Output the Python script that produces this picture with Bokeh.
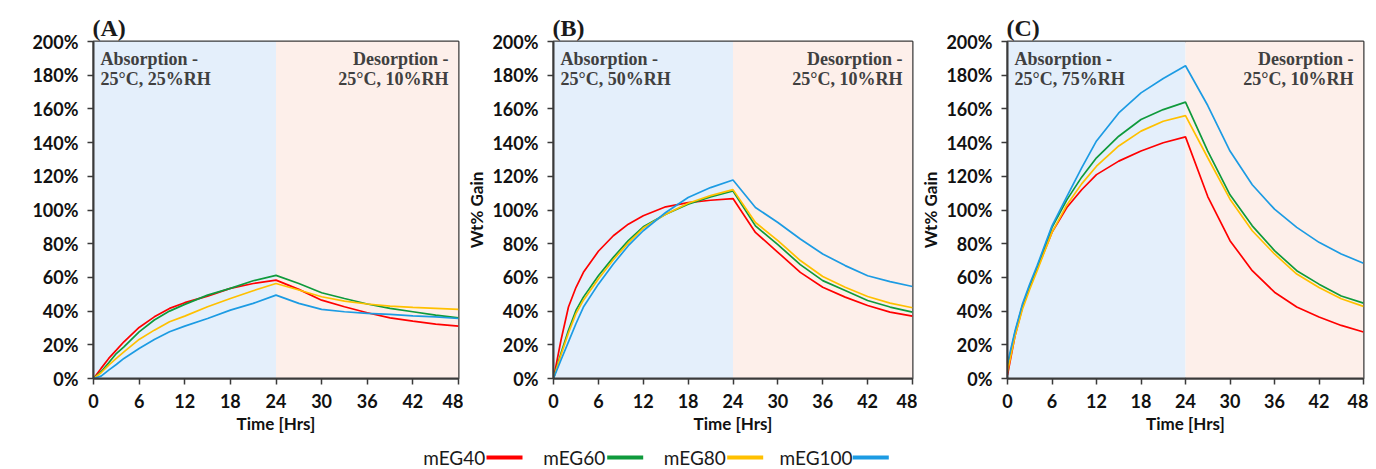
from bokeh.plotting import figure
from bokeh.layouts import column, row
from bokeh.models import BoxAnnotation, Label, FixedTicker, PrintfTickFormatter, Range1d
from bokeh.core.properties import value
from bokeh.embed import file_html
from bokeh.resources import INLINE

# ---------------- data ----------------
series_names = ["mEG40", "mEG60", "mEG80", "mEG100"]
series_colors = ["#FF0000", "#0F9A3C", "#FFC000", "#1C9BE3"]

time_hrs = [0, 1, 2, 3, 4, 6, 8, 10, 12, 15, 18, 21, 24, 27, 30, 33, 36, 39, 42, 45, 48]
x_ticks = [0, 6, 12, 18, 24, 30, 36, 42, 48]
y_ticks = [0, 20, 40, 60, 80, 100, 120, 140, 160, 180, 200]

panel_tags = ["(A)", "(B)", "(C)"]
absorption_rh = ["25°C, 25%RH", "25°C, 50%RH", "25°C, 75%RH"]
desorption_rh = "25°C, 10%RH"

# Panel A (25%RH)
a_meg40 = [0, 6, 11.9, 16.8, 21.8, 30.3, 36.6, 41.6, 45, 48.9, 53.5, 56.4, 58.4, 52.9, 46.5, 42.6, 39, 36, 34, 32.3, 31.1]
a_meg60 = [0, 4, 9.3, 14.8, 18.8, 27.7, 34.7, 40, 44, 49.5, 53.5, 58, 61.2, 56.4, 50.9, 47.5, 44.2, 41.6, 39.6, 37.6, 36]
a_meg80 = [0, 3.4, 7.9, 11.9, 15.8, 23.2, 28.7, 33.7, 37, 42.6, 47.5, 52.1, 56.4, 52.5, 48.5, 45.9, 44.2, 43, 42.2, 41.6, 41]
a_meg100 = [0, 1.4, 5, 8.3, 11.9, 17.8, 23.2, 27.7, 31.1, 35.6, 40.6, 44.6, 49.5, 44.6, 41, 39.6, 38.6, 38, 37.2, 36.6, 35.6]

# Panel B (50%RH)
b_meg40 = [0, 22.7, 42.4, 54, 63, 75.5, 84.7, 91.6, 96.6, 101.9, 104.4, 105.8, 106.8, 86.7, 74.9, 63, 54.2, 48.3, 43.3, 39.4, 37]
b_meg60 = [0, 15, 28.6, 40.4, 48.3, 61, 71.9, 81.8, 90, 97.5, 103.4, 107.8, 111.3, 90.6, 79.4, 67.6, 58.1, 52.2, 46.3, 42.4, 39.4]
b_meg80 = [0, 14, 27, 38.5, 46.5, 59, 70.5, 80.5, 89.3, 97.5, 104, 108.5, 112.1, 92.6, 81.8, 70, 60.5, 54.2, 48.7, 44.7, 42]
b_meg100 = [0, 11, 21.7, 32.5, 42.4, 56, 68, 78.8, 87.7, 98.5, 107.4, 113.3, 117.8, 101.5, 92.6, 82.8, 73.9, 67, 61, 57.5, 54.6]

# Panel C (75%RH)
c_meg40 = [2, 25, 42, 54, 65, 86.7, 101.5, 112, 121, 129, 135, 139.9, 143.4, 108, 81.8, 64, 51.2, 42.4, 36.5, 31.5, 27.6]
c_meg60 = [7, 27, 43, 55, 66, 89.7, 106, 119.5, 131, 143.8, 153.7, 159.6, 164, 135, 109, 90.6, 75.9, 64, 56, 49, 44.7]
c_meg80 = [4, 25, 41, 53, 64, 86.7, 103, 115.5, 126, 138, 146.8, 152.7, 156, 131, 106.4, 87.7, 73.9, 62, 54, 47.3, 42.8]
c_meg100 = [9, 28, 44, 56, 67, 90.6, 108, 125, 141, 157.6, 169.5, 178, 185.6, 162, 135, 115, 100.5, 89.7, 80.8, 73.9, 68.4]

panels_data = [
    [a_meg40, a_meg60, a_meg80, a_meg100],
    [b_meg40, b_meg60, b_meg80, b_meg100],
    [c_meg40, c_meg60, c_meg80, c_meg100],
]

# ---------------- styling ----------------
ABS_BG = "#E4EFFB"
DES_BG = "#FDEFEA"
DARK = "#3A3A3A"
ANNOT = "#404040"
SANS = "Lato"
SERIF = "Liberation Serif"

FRAME_H = 338
TOP = 41
BOTTOM = 57

layout_specs = [  # (left border, frame width, right border, show y label)
    (93, 365, 5, False),
    (84, 365, 5, True),
    (80, 366, 5, True),
]


def make_panel(i):
    lb, fw, rb, show_ylabel = layout_specs[i]
    p = figure(width=lb + fw + rb, height=TOP + FRAME_H + BOTTOM,
               x_range=Range1d(0, 48), y_range=Range1d(0, 200),
               output_backend="svg", toolbar_location=None,
               min_border_left=lb, min_border_right=rb,
               min_border_top=TOP, min_border_bottom=BOTTOM)
    p.background_fill_color = "white"
    p.border_fill_color = "white"
    p.outline_line_color = DARK
    p.outline_line_width = 2
    p.xgrid.visible = False
    p.ygrid.visible = False

    # panel tag as title
    p.title.text = panel_tags[i]
    p.title.align = "left"
    p.title.text_font = SERIF
    p.title.text_font_style = "bold"
    p.title.text_font_size = "24px"
    p.title.text_color = "#1a1a1a"
    p.title.standoff = 2
    p.title.offset = -1

    p.add_layout(BoxAnnotation(left=0, right=24, fill_color=ABS_BG, fill_alpha=1,
                               line_color=None, level="underlay"))
    p.add_layout(BoxAnnotation(left=24, right=48, fill_color=DES_BG, fill_alpha=1,
                               line_color=None, level="underlay"))

    for vals, color in zip(panels_data[i], series_colors):
        p.line(time_hrs, vals, line_color=color, line_width=1.7)

    # axes
    p.xaxis.ticker = FixedTicker(ticks=x_ticks)
    p.yaxis.ticker = FixedTicker(ticks=y_ticks)
    p.yaxis.formatter = PrintfTickFormatter(format="%d%%")
    for ax in (p.xaxis, p.yaxis):
        ax.major_tick_out = 6
        ax.major_tick_in = 0
        ax.minor_tick_out = 0
        ax.minor_tick_in = 0
        ax.major_tick_line_color = DARK
        ax.major_tick_line_width = 1.5
        ax.axis_line_color = DARK
        ax.axis_line_width = 2
        ax.major_label_text_font = SANS
        ax.major_label_text_font_style = "bold"
        ax.major_label_text_font_size = "18px"
        ax.major_label_text_color = "#111111"
        ax.axis_label_text_font = SANS
        ax.axis_label_text_font_style = "bold"
        ax.axis_label_text_font_size = "17px"
        ax.axis_label_text_color = "#111111"
    p.xaxis.major_label_standoff = 9
    p.yaxis.major_label_standoff = 9
    p.xaxis.axis_label = "Time [Hrs]"
    p.xaxis.axis_label_standoff = 2
    if show_ylabel:
        p.yaxis.axis_label = "Wt% Gain"
        p.yaxis.axis_label_standoff = 2

    # phase annotations
    for txt, yoff in (("Absorption -", -17), (absorption_rh[i], -37)):
        p.add_layout(Label(x=0, y=200, x_offset=7, y_offset=yoff, text=txt,
                           text_font=SERIF, text_font_style="bold", text_font_size="18px",
                           text_color=ANNOT, text_baseline="alphabetic", text_align="left"))
    for txt, yoff in (("Desorption -", -17), (desorption_rh, -37)):
        p.add_layout(Label(x=48, y=200, x_offset=-10, y_offset=yoff, text=txt,
                           text_font=SERIF, text_font_style="bold", text_font_size="18px",
                           text_color=ANNOT, text_baseline="alphabetic", text_align="right"))
    return p


panels = [make_panel(i) for i in range(3)]
total_w = sum(a + b + c for a, b, c, _ in layout_specs)

# ---------------- legend ----------------
LEG_H = 33
leg = figure(width=total_w, height=LEG_H, x_range=Range1d(0, total_w), y_range=Range1d(0, LEG_H),
             output_backend="svg", toolbar_location=None,
             min_border_left=0, min_border_right=0, min_border_top=0, min_border_bottom=0)
leg.axis.visible = False
leg.xgrid.visible = False
leg.ygrid.visible = False
leg.outline_line_color = None
leg.background_fill_color = "white"
leg.border_fill_color = "white"

leg_text_x = [422.7, 542.7, 663.3, 779.0]
leg_line_x0 = [486.0, 606.7, 726.7, 852.3]
leg_line_len = 36
leg_y = 12
leg.text(x=leg_text_x, y=[leg_y] * 4, text=series_names,
         text_font=value(SANS), text_font_size="19px", text_color="#1a1a1a",
         text_baseline="middle", text_align="left")
leg.segment(x0=leg_line_x0, y0=[leg_y] * 4, x1=[v + leg_line_len for v in leg_line_x0], y1=[leg_y] * 4,
            line_color=series_colors, line_width=4)

layout = column(row(*panels), leg)
open("out.html", "w").write(file_html(layout, INLINE))
